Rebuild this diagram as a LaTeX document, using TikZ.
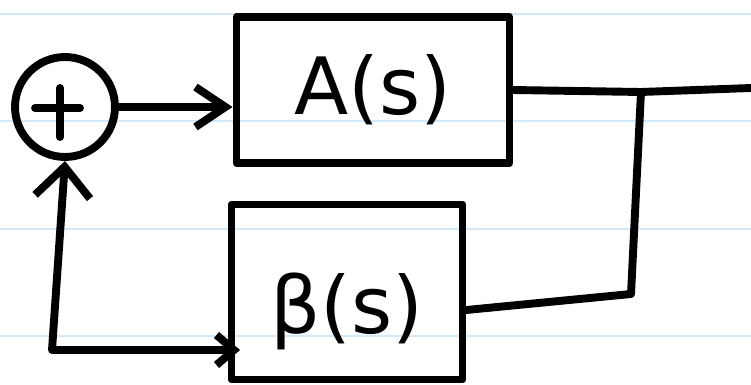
\documentclass[tikz,border=0pt]{standalone}
\usepackage{fontspec}
\setmainfont{DejaVu Sans}
\usetikzlibrary{arrows.meta,calc}
\definecolor{FBInk}{HTML}{000000}
\definecolor{FBRule}{HTML}{D3E8F8}
\tikzset{
  bdbox/.style={draw=FBInk, line width=4.5pt, line join=round, inner sep=0pt},
  bdsum/.style={circle, draw=FBInk, line width=4.5pt, minimum size=2cm, inner sep=0pt},
  bdwire/.style={draw=FBInk, line width=4.5pt, line cap=round, line join=round},
  bdtip/.style={-{Straight Barb[length=6mm,width=8mm]}},
  bdrule/.style={draw=FBRule, line width=1.2pt}
}
\begin{document}
\begin{tikzpicture}[x=0.02cm, y=-0.02cm, font=\fontsize{45}{54}\selectfont]
  \useasboundingbox (0,0) rectangle (751,385);
  % notebook rules
  \foreach \ry in {14,121,229,336}
    \draw[bdrule] (0,\ry) -- (751,\ry);

  \node[bdsum] (sum) at (65,107) {};
  \draw[bdwire] ($(sum.center)+(-30,1)$) -- ($(sum.center)+(15,1)$)
    ($(sum.center)+(-5,-19)$) -- ($(sum.center)+(-5,30)$);

  \node[bdbox, minimum width=5.46cm, minimum height=2.92cm] (A) at (373,90) {A(s)};
  \node[bdbox, minimum width=4.62cm, minimum height=3.5cm,
    text height=2cm] (beta) at (347,292) {β(s)};

  \coordinate (jn) at (641,92);
  \coordinate (out) at (751,88);
  \coordinate (jd) at (631,294);
  \coordinate (fb) at (52,350);

  \draw[bdwire, bdtip] (sum.east) -- (sum.east -| A.west);
  \draw[bdwire] (A.east) -- (jn) -- (out);
  \draw[bdwire] (jn) -- (jd) -- ([yshift=-0.36cm]beta.east);
  \draw[bdwire, {Straight Barb[length=3.5mm,width=6mm]}-{Straight Barb[length=6mm,width=11mm]}]
    ([xshift=0.25cm]beta.west |- fb) -- (fb) -- (sum.south);
\end{tikzpicture}
\end{document}
